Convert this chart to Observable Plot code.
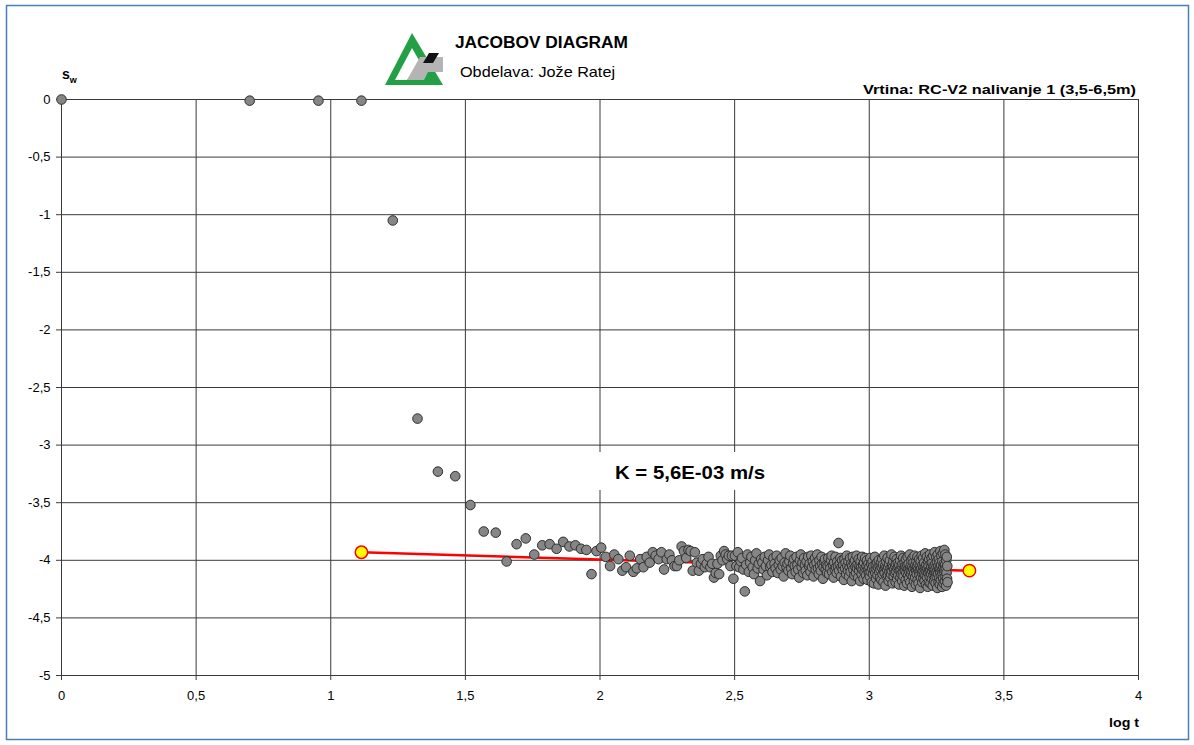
<!DOCTYPE html>
<html>
<head>
<meta charset="utf-8">
<script src="https://cdn.jsdelivr.net/npm/d3@7"></script>
<script src="https://cdn.jsdelivr.net/npm/@observablehq/plot@0.6"></script>
<style>
html, body { margin: 0; padding: 0; background: #ffffff; }
#wrap { position: relative; width: 1194px; height: 745px; overflow: hidden; font-family: Arial, "Liberation Sans", sans-serif; }
#wrap > svg { position: absolute; left: 0; top: 0; }
#overlay { pointer-events: none; }
</style>
</head>
<body>
<div id="wrap"></div>
<script>
// ---- data ----
const timeSec = [
  1,5,9,13,17,21,25,29,33,37,41,45,49,53,57,61,65,69,73,77,81,85,89,93,97,
  101,105,109,113,117,121,125,129,133,137,141,145,149,153,157,161,165,169,173,177,181,185,189,193,197,
  201,205,209,213,217,221,225,229,233,237,241,245,249,253,257,261,265,269,273,277,281,285,289,293,297,
  301,305,309,313,317,321,325,329,333,337,341,345,349,353,357,361,365,369,373,377,381,385,389,393,397,
  401,405,409,413,417,421,425,429,433,437,441,445,449,453,457,461,465,469,473,477,481,485,489,493,497,
  501,505,509,513,517,521,525,529,533,537,541,545,549,553,557,561,565,569,573,577,581,585,589,593,597,
  601,605,609,613,617,621,625,629,633,637,641,645,649,653,657,661,665,669,673,677,681,685,689,693,697,
  701,705,709,713,717,721,725,729,733,737,741,745,749,753,757,761,765,769,773,777,781,785,789,793,797,
  801,805,809,813,817,821,825,829,833,837,841,845,849,853,857,861,865,869,873,877,881,885,889,893,897,
  901,905,909,913,917,921,925,929,933,937,941,945,949,953,957,961,965,969,973,977,981,985,989,993,997,
  1001,1005,1009,1013,1017,1021,1025,1029,1033,1037,1041,1045,1049,1053,1057,1061,1065,1069,1073,1077,1081,1085,1089,1093,1097,
  1101,1105,1109,1113,1117,1121,1125,1129,1133,1137,1141,1145,1149,1153,1157,1161,1165,1169,1173,1177,1181,1185,1189,1193,1197,
  1201,1205,1209,1213,1217,1221,1225,1229,1233,1237,1241,1245,1249,1253,1257,1261,1265,1269,1273,1277,1281,1285,1289,1293,1297,
  1301,1305,1309,1313,1317,1321,1325,1329,1333,1337,1341,1345,1349,1353,1357,1361,1365,1369,1373,1377,1381,1385,1389,1393,1397,
  1401,1405,1409,1413,1417,1421,1425,1429,1433,1437,1441,1445,1449,1453,1457,1461,1465,1469,1473,1477,1481,1485,1489,1493,1497,
  1501,1505,1509,1513,1517,1521,1525,1529,1533,1537,1541,1545,1549,1553,1557,1561,1565,1569,1573,1577,1581,1585,1589,1593,1597,
  1601,1605,1609,1613,1617,1621,1625,1629,1633,1637,1641,1645,1649,1653,1657,1661,1665,1669,1673,1677,1681,1685,1689,1693,1697,
  1701,1705,1709,1713,1717,1721,1725,1729,1733,1737,1741,1745,1749,1753,1757,1761,1765,1769,1773,1777,1781,1785,1789,1793,1797,
  1801,1805,1809,1813,1817,1821,1825,1829,1833,1837,1841,1845,1849,1853,1857,1861,1865,1869,1873,1877,1881,1885,1889,1893,1897,
  1901,1905,1909,1913,1917,1921,1925,1929,1933,1937,1941,1945,1949,1953
];
const drawdown = [
  0,-0.01,-0.01,-0.01,-1.05,-2.77,-3.23,-3.27,-3.52,-3.75,-3.76,-4.01,-3.86,-3.81,-3.95,-3.87,-3.86,-3.90,-3.84,-3.88,-3.87,-3.90,-3.91,-4.12,-3.92,
  -3.89,-3.97,-4.05,-3.95,-3.99,-4.09,-4.06,-3.96,-4.10,-4.07,-3.99,-4.06,-3.97,-4.02,-3.93,-3.96,-3.99,-3.93,-4.08,-3.99,-3.95,-4.00,-4.05,-4.05,-4.00,
  -3.88,-3.92,-3.98,-3.91,-3.92,-4.09,-3.93,-4.02,-4.09,-4.03,-3.99,-4.06,-4.03,-3.97,-4.06,-4.03,-4.15,-4.11,-4.03,-4.12,-3.96,-4.00,-3.92,-3.95,-3.99,
  -3.96,-4.05,-3.96,-4.16,-3.96,-4.05,-3.93,-4.06,-4.01,-3.98,-4.08,-4.27,-4.04,-3.95,-4.10,-4.02,-3.97,-4.06,-4.12,-4.00,-3.94,-4.07,-4.03,-4.18,-3.99,
  -4.02,-4.08,-3.97,-4.05,-4.13,-4.00,-3.95,-4.06,-4.04,-4.10,-3.98,-4.03,-4.07,-3.96,-4.11,-4.04,-4.00,-4.08,-3.98,-4.05,-4.14,-4.02,-3.94,-4.06,-4.03,
  -4.09,-4.01,-3.96,-4.07,-4.12,-4.03,-3.99,-4.05,-4.10,-3.97,-4.04,-4.08,-4.15,-4.00,-3.95,-4.06,-4.02,-4.11,-3.98,-4.04,-4.09,-4.01,-4.13,-3.97,-4.05,
  -4.03,-4.10,-3.96,-4.06,-4.01,-4.14,-4.04,-3.98,-4.08,-4.02,-3.95,-4.07,-4.12,-4.00,-4.05,-4.09,-3.97,-4.03,-4.16,-4.06,-4.01,-3.99,-4.08,-4.04,-4.11,
  -4.05,-3.98,-4.12,-4.03,-4.07,-4.00,-3.96,-4.10,-4.04,-4.15,-4.02,-4.08,-3.97,-4.06,-4.11,-4.01,-4.05,-3.85,-4.09,-4.03,-3.98,-4.14,-4.06,-4.00,-4.08,
  -4.04,-4.17,-3.99,-4.07,-4.02,-4.12,-3.96,-4.05,-4.09,-4.01,-4.14,-4.06,-3.98,-4.10,-4.03,-4.18,-4.05,-3.97,-4.08,-4.02,-4.13,-4.00,-4.06,-4.11,-3.96,
  -4.07,-4.03,-4.15,-3.99,-4.09,-4.05,-4.18,-4.01,-4.06,-4.12,-3.97,-4.08,-4.04,-4.16,-4.02,-4.10,-3.98,-4.07,-4.13,-4.05,-4.00,-4.17,-4.08,-4.03,-4.11,
  -4.06,-4.14,-3.98,-4.10,-4.03,-4.19,-4.07,-4.01,-4.12,-4.05,-4.20,-4.09,-3.97,-4.11,-4.04,-4.16,-4.08,-4.02,-4.13,-4.06,-4.21,-4.00,-4.10,-4.05,-4.15,
  -4.08,-4.02,-4.17,-4.06,-3.99,-4.12,-4.04,-4.19,-4.09,-3.96,-4.11,-4.05,-4.22,-4.07,-4.01,-4.14,-4.08,-3.98,-4.13,-4.06,-4.18,-4.03,-4.10,-4.00,-4.15,
  -4.07,-4.12,-3.95,-4.09,-4.04,-4.20,-4.06,-4.01,-4.14,-4.08,-3.97,-4.11,-4.05,-4.19,-4.03,-4.10,-3.99,-4.16,-4.07,-4.02,-4.13,-4.06,-4.21,-4.04,-4.09,
  -4.00,-4.15,-4.08,-3.96,-4.12,-4.05,-4.18,-4.03,-4.10,-3.98,-4.14,-4.07,-4.22,-4.02,-4.09,-4.05,-4.17,-3.99,-4.11,-4.06,-4.20,-4.04,-3.97,-4.13,-4.08,
  -4.03,-4.16,-4.10,-3.95,-4.07,-4.19,-4.05,-4.12,-4.00,-4.09,-4.23,-4.06,-3.98,-4.14,-4.08,-4.02,-4.18,-4.11,-3.96,-4.07,-4.15,-4.04,-4.21,-4.09,-4.01,
  -4.12,-4.06,-3.97,-4.17,-4.08,-4.03,-4.20,-4.10,-3.99,-4.13,-4.05,-4.24,-4.08,-4.01,-4.15,-4.07,-3.96,-4.11,-4.19,-4.04,-4.09,-3.98,-4.16,-4.06,-4.12,
  -4.02,-4.18,-4.08,-3.94,-4.13,-4.06,-4.21,-4.04,-4.10,-3.97,-4.15,-4.07,-4.23,-4.01,-4.11,-4.05,-4.19,-3.99,-4.09,-4.14,-3.95,-4.08,-4.20,-4.03,-4.12,
  -4.06,-3.98,-4.16,-4.09,-4.02,-4.22,-4.07,-3.96,-4.13,-4.05,-4.18,-4.10,-3.93,-4.08,-4.15,-4.03,-4.20,-4.11,-3.97,-4.06,-4.14,-4.01,-4.24,-4.09,-3.95,
  -4.12,-4.05,-4.19,-3.99,-4.08,-4.15,-4.02,-4.21,-4.10,-3.92,-4.07,-4.17,-4.04,-3.96,-4.13,-4.09,-4.23,-4.01,-4.11,-3.94,-4.16,-4.06,-4.20,-4.03,-4.10,
  -3.91,-4.08,-4.18,-4.04,-3.95,-4.14,-4.07,-4.22,-4.00,-4.11,-3.97,-4.16,-4.05,-4.19
];
// fitted Jacob straight line (end points)
const fitLogT = [1.114, 3.372];
const fitDrawdown = [-3.93, -4.09];

const xTicks = [0, 0.5, 1, 1.5, 2, 2.5, 3, 3.5, 4];
const yTicks = [0, -0.5, -1, -1.5, -2, -2.5, -3, -3.5, -4, -4.5, -5];

const titleText = "JACOBOV DIAGRAM";
const authorText = "Obdelava: Jože Ratej";
const wellText = "Vrtina: RC-V2 nalivanje 1 (3,5-6,5m)";
const kText = "K = 5,6E-03 m/s";
const xLabel = "log t";
const yLabelMain = "s";
const yLabelSub = "w";

// ---- build tables ----
const obs = timeSec.map((t, i) => ({ logt: Math.log10(t), s: drawdown[i] }));
const fit = fitLogT.map((x, i) => ({ logt: x, s: fitDrawdown[i] }));
const fmt = d => String(d).replace(".", ",");

const FONT = 'Arial, "Liberation Sans", sans-serif';
const gridColor = "#3a3a3a";

const chart = Plot.plot({
  width: 1194,
  height: 745,
  marginLeft: 61,
  marginRight: 56,
  marginTop: 99,
  marginBottom: 70,
  x: { domain: [0, 4] },
  y: { domain: [-5, 0] },
  style: { fontFamily: FONT, fontSize: "13px", color: "#000", background: "transparent", overflow: "visible" },
  marks: [
    Plot.gridX(xTicks, { stroke: gridColor, strokeOpacity: 1, strokeWidth: 1 }),
    Plot.gridY(yTicks, { stroke: gridColor, strokeOpacity: 1, strokeWidth: 1 }),
    Plot.axisX(xTicks, { tickFormat: fmt, tickSize: 5, tickPadding: 10, label: null, stroke: gridColor }),
    Plot.axisY(yTicks, { tickFormat: fmt, tickSize: 5, tickPadding: 6, label: null, stroke: gridColor }),
    Plot.line(fit, { x: "logt", y: "s", stroke: "#ff0000", strokeWidth: 2.5 }),
    Plot.dot(obs, { x: "logt", y: "s", r: 4.8, fill: "#868686", stroke: "#2e2e2e", strokeWidth: 1 }),
    Plot.dot(fit, { x: "logt", y: "s", r: 6.2, fill: "#ffff00", stroke: "#ff0000", strokeWidth: 1.5 })
  ]
});

const wrap = document.getElementById("wrap");
wrap.appendChild(chart);

// ---- overlay: frame border, logo, titles, axis names, K annotation ----
const ns = "http://www.w3.org/2000/svg";
const ov = document.createElementNS(ns, "svg");
ov.setAttribute("id", "overlay");
ov.setAttribute("width", 1194);
ov.setAttribute("height", 745);
ov.setAttribute("font-family", FONT);
function el(tag, attrs, text) {
  const e = document.createElementNS(ns, tag);
  for (const k in attrs) e.setAttribute(k, attrs[k]);
  if (text != null) e.textContent = text;
  ov.appendChild(e);
  return e;
}
// outer chart border
el("rect", { x: 6.5, y: 5.5, width: 1182, height: 734, fill: "none", stroke: "#4a7ebb", "stroke-width": 1.5 });
// logo
el("polygon", { points: "385,85 412,33 443,85", fill: "#23a046" });
el("polygon", { points: "395,80 412,48 420,62 407,80", fill: "#ffffff" });
el("polygon", { points: "407,80 420,57 443,57 443,72 428,72 424,80", fill: "#b4b4b4" });
el("polygon", { points: "423,63 429,53 439,53 433,63", fill: "#111111" });
// titles (stretched to the reference's widths)
el("text", { x: 455, y: 48, "font-size": 16, "font-weight": "bold", fill: "#000", textLength: 173, lengthAdjust: "spacingAndGlyphs" }, titleText);
el("text", { x: 460, y: 77, "font-size": 15, fill: "#000", textLength: 155, lengthAdjust: "spacingAndGlyphs" }, authorText);
el("text", { x: 863, y: 94, "font-size": 13, "font-weight": "bold", fill: "#000", textLength: 273, lengthAdjust: "spacingAndGlyphs" }, wellText);
// axis names
const sw = el("text", { x: 62, y: 79, "font-size": 14, "font-weight": "bold", fill: "#000" }, yLabelMain);
const sub = document.createElementNS(ns, "tspan");
sub.setAttribute("font-size", 9);
sub.setAttribute("dy", 4);
sub.textContent = yLabelSub;
sw.appendChild(sub);
el("text", { x: 1109, y: 727, "font-size": 13, "font-weight": "bold", fill: "#000", textLength: 30, lengthAdjust: "spacingAndGlyphs" }, xLabel);
// K annotation box
el("rect", { x: 597, y: 452, width: 188, height: 38, fill: "#ffffff" });
el("text", { x: 615, y: 479, "font-size": 19, "font-weight": "bold", fill: "#000", textLength: 150, lengthAdjust: "spacingAndGlyphs" }, kText);
wrap.appendChild(ov);
</script>
</body>
</html>
